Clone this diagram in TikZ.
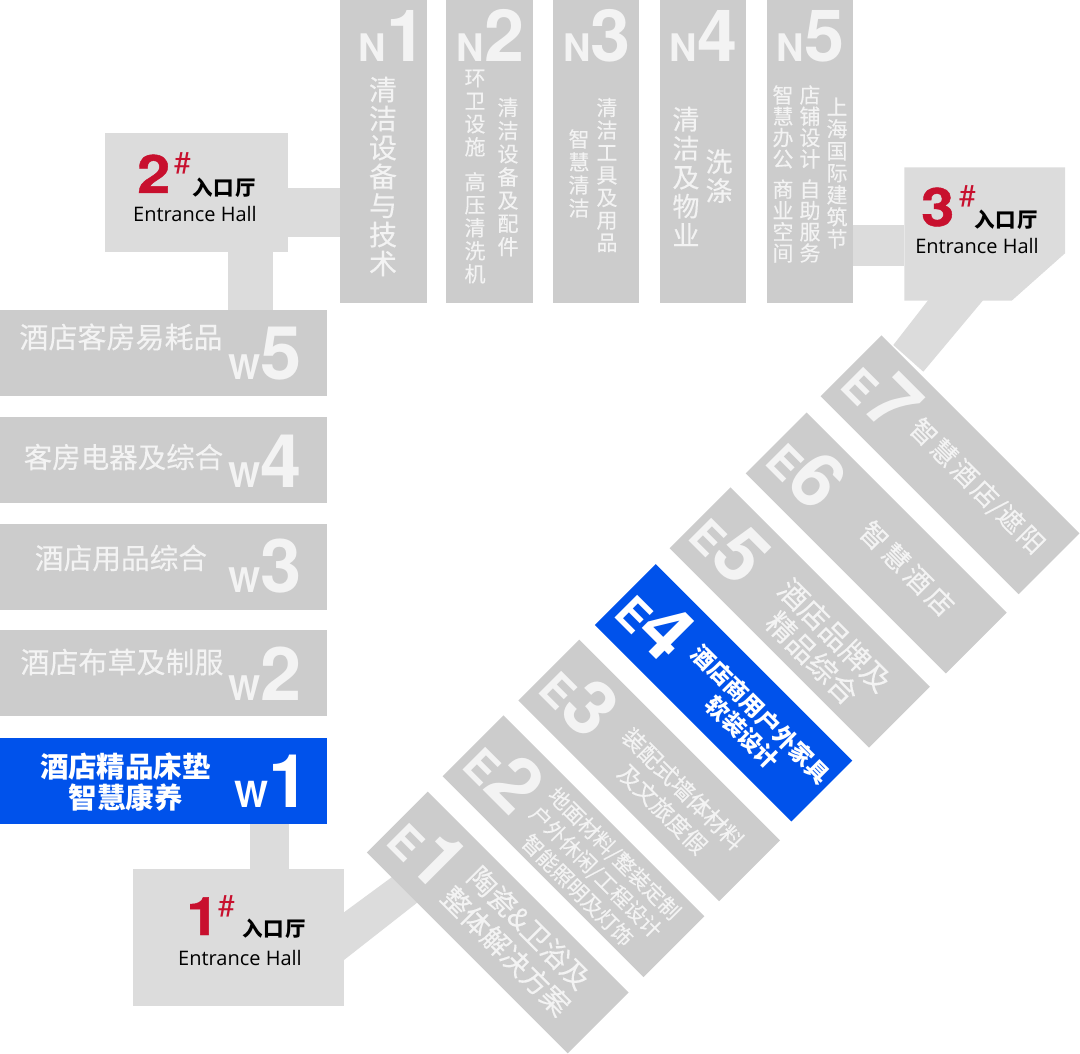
\documentclass[tikz,border=0pt]{standalone}
\usepackage{fontspec}
\newfontfamily\cjk{Noto Sans CJK SC}[FakeBold=0.25]
\newfontfamily\cjkb{Noto Sans CJK SC}
\newfontfamily\lab{TeX Gyre Heros}
\newfontfamily\labheavy{TeX Gyre Heros}[FakeBold=0.8,FakeStretch=1.12]
\newfontfamily\latin{Open Sans}
\XeTeXlinebreaklocale "zh"
\XeTeXlinebreakskip=0pt plus 0pt
\definecolor{hallgray}{RGB}{220,220,220}
\definecolor{zonegray}{RGB}{204,204,204}
\definecolor{zoneblue}{RGB}{0,82,235}
\definecolor{zonetext}{RGB}{243,243,243}
\definecolor{hallred}{RGB}{200,16,46}
\newcommand{\zonetag}[4]{{\lab\bfseries\fontsize{#3}{#3}\selectfont #1}{\lab\bfseries\fontsize{#4}{#4}\selectfont #2}}
\tikzset{
  zone/.style={fill=zonegray,inner sep=0pt,outer sep=0pt},
  ncol/.style={zone,minimum width=86.3,minimum height=303,anchor=north},
  wrow/.style={zone,minimum width=327,minimum height=86.3,anchor=west},
  erow/.style={zone,minimum width=#1,minimum height=86},
  hall/.style={fill=hallgray,inner sep=0pt,outer sep=0pt},
  tag/.style={text=zonetext,inner sep=0pt},
  hline/.style={text=zonetext,inner sep=0pt,font=\cjk\fontsize{#1}{#1}\selectfont},
  hblue/.style={text=white,inner sep=0pt,align=center,font=\cjkb\bfseries\fontsize{#1}{30.5}\selectfont},
  eline/.style n args={2}{text=zonetext,inner sep=0pt,align=center,font=\cjk\fontsize{#1}{#2}\selectfont},
  stack/.style n args={2}{text=zonetext,inner sep=0pt,align=center,text width={#1+1},font=\cjk\fontsize{#1}{#2}\selectfont},
  hallno/.style={text=hallred,inner sep=0pt,anchor=base west,font=\labheavy\bfseries\fontsize{53}{53}\selectfont},
  hallsharp/.style={text=hallred,inner sep=0pt,anchor=base west,font=\lab\fontsize{30}{30}\selectfont},
  hallcn/.style={inner sep=0pt,anchor=base east,font=\cjkb\bfseries\fontsize{20.5}{20.5}\selectfont},
  hallen/.style={inner sep=0pt,anchor=base east,font=\latin\fontsize{20}{20}\selectfont},
}

\begin{document}
\begin{tikzpicture}[x=1pt,y=-1pt]
  \useasboundingbox (0,0) rectangle (1080,1054);

  % halls
  \node[hall,minimum width=182.7,minimum height=119,anchor=north west] (hall2) at (105,133.3) {};
  \node[hall,minimum width=210.7,minimum height=137,anchor=north west] (hall1) at (133.3,869) {};
  \fill[hallgray] (904.3,167.3) coordinate (hall3) -- (1065,167.3) -- (1065,253.3) -- (1011.7,300.7) -- (904.3,300.7) -- cycle;

  % bands that run under the diagonal boxes
  \coordinate (b1a) at (344,912.3);
  \coordinate (b1b) at (392,877);
  \coordinate (b1c) at (418,902);
  \coordinate (b1d) at (344,960);
  \fill[hallgray] (b1a) -- (b1b) -- (b1c) -- (b1d) -- cycle;
  \coordinate (b3a) at (928.3,300);
  \coordinate (b3b) at (893.3,345);
  \coordinate (b3c) at (923.3,371.7);
  \coordinate (b3d) at (983.3,300);
  \fill[hallgray] (b3a) -- (b3b) -- (b3c) -- (b3d) -- cycle;

  % north columns
  \node[ncol] (n1) at (383.5,0) {};
  \node[ncol] (n2) at (489.5,0) {};
  \node[ncol] (n3) at (596.3,0) {};
  \node[ncol] (n4) at (703.3,0) {};
  \node[ncol] (n5) at (810.2,0) {};
  \node[tag,anchor=base west] at (358.5,62) {\zonetag{N}{1}{38}{72}};
  \node[tag,anchor=base west] at (456.5,62) {\zonetag{N}{2}{38}{72}};
  \node[tag,anchor=base west] at (563,62) {\zonetag{N}{3}{38}{72}};
  \node[tag,anchor=base west] at (669.5,62) {\zonetag{N}{4}{38}{72}};
  \node[tag,anchor=base west] at (776.5,62) {\zonetag{N}{5}{38}{72}};
  \node[stack={28}{29}] at (383,176.5) {清洁设备与技术};
  \node[stack={21}{23}] at (475,176.5) {环卫设施\\[12pt]高压清洗机};
  \node[stack={21}{23.2}] at (508,177) {清洁设备及配件};
  \node[stack={21}{22.5}] at (607,175) {清洁工具及用品};
  \node[stack={21}{23}] at (579,173.5) {智慧清洁};
  \node[stack={27}{29}] at (686,176.5) {清洁及物业};
  \node[stack={27}{29}] at (719,176) {洗涤};
  \node[stack={21}{22}] at (837,173) {上海国际建筑节};
  \node[stack={21}{21.3}] at (810,174) {店铺设计\\[9pt]自助服务};
  \node[stack={21}{21.3}] at (783,174) {智慧办公\\[9pt]商业空间};

  % west rows
  \node[wrow] (w5) at (0,353) {};
  \node[wrow] (w4) at (0,460) {};
  \node[wrow] (w3) at (0,567) {};
  \node[wrow] (w2) at (0,673) {};
  \node[wrow,fill=zoneblue] (w1) at (0,781) {};
  \node[tag,anchor=base east] at (302,379) {\zonetag{W}{5}{34}{74}};
  \node[tag,anchor=base east] at (302,487) {\zonetag{W}{4}{34}{74}};
  \node[tag,anchor=base east] at (302,592) {\zonetag{W}{3}{34}{74}};
  \node[tag,anchor=base east] at (302,700) {\zonetag{W}{2}{34}{74}};
  \node[tag,text=white,anchor=base east] at (310,807) {\zonetag{W}{1}{36}{74}};
  \node[hline=29] at (121,337) {酒店客房易耗品};
  \node[hline=28.5] at (123.5,457) {客房电器及综合};
  \node[hline=28.7] at (121,558) {酒店用品综合};
  \node[hline=29] at (122,662) {酒店布草及制服};
  \node[hblue=28.5] at (125.5,782) {酒店精品床垫\\智慧康养};

  % connectors between halls and boxes
  \coordinate (h2r) at (287,212.5);
  \coordinate (h2d) at (250.3,252);
  \coordinate (h1u) at (269.7,869);
  \coordinate (h3l) at (904.3,245.5);
  \draw[hallgray,line width=48.4] (h2r) -- (h2r -| n1.west);
  \draw[hallgray,line width=44.7] (h2d) -- (h2d |- w5.north);
  \draw[hallgray,line width=39.3] (h1u) -- (h1u |- w1.south);
  \draw[hallgray,line width=41] (h3l) -- (h3l -| n5.east);

  % east boxes
  \begin{scope}[shift={(497.8,922.5)},rotate=-45,transform shape]
    \node[erow=284] (e1) at (0,0) {};
    \node[tag,anchor=base west] at (-136,24) {\zonetag{E}{1}{44}{76}};
    \node[eline={28}{33}] at (26,-2) {陶瓷\&卫浴及\\整体解决方案};
  \end{scope}
  \begin{scope}[shift={(573.5,846.3)},rotate=-45,transform shape]
    \node[erow=284] (e2) at (0,0) {};
    \node[tag,anchor=base west] at (-136,24) {\zonetag{E}{2}{44}{76}};
    \node[eline={21}{26}] at (34,2) {地面材料/整装定制\\户外休闲/工程设计\\智能照明及灯饰};
  \end{scope}
  \begin{scope}[shift={(649.2,770.4)},rotate=-45,transform shape]
    \node[erow=284] (e3) at (0,0) {};
    \node[tag,anchor=base west] at (-136,24) {\zonetag{E}{3}{44}{76}};
    \node[eline={23}{29}] at (37,3.5) {装配式墙体材料\\及文旅度假};
  \end{scope}
  \begin{scope}[shift={(723.6,692.8)},rotate=-45,transform shape]
    \node[erow=278,fill=zoneblue] (e4) at (0,0) {};
    \node[tag,text=white,anchor=base west] at (-134,24) {\zonetag{E}{4}{44}{76}};
    \node[text=white,inner sep=0pt,align=center,font=\cjkb\bfseries\fontsize{23}{26}\selectfont] at (41.5,1.5) {酒店商用户外家具\\软装设计};
  \end{scope}
  \begin{scope}[shift={(799.7,617.5)},rotate=-45,transform shape]
    \node[erow=282] (e5) at (0,0) {};
    \node[tag,anchor=base west] at (-136,24) {\zonetag{E}{5}{44}{76}};
    \node[eline={29}{32}] at (37.5,3.5) {酒店品牌及\\精品综合};
  \end{scope}
  \begin{scope}[shift={(876.2,543)},rotate=-45,transform shape]
    \node[erow=283] (e6) at (0,0) {};
    \node[tag,anchor=base west] at (-136,24) {\zonetag{E}{6}{44}{76}};
    \node[eline={27}{27}] at (40,-4) {智\hspace{4pt}慧\hspace{4pt}酒\hspace{4pt}店};
  \end{scope}
  \begin{scope}[shift={(950,464.8)},rotate=-45,transform shape]
    \node[erow=280] (e7) at (0,0) {};
    \node[tag,anchor=base west] at (-134,24) {\zonetag{E}{7}{44}{76}};
    \node[eline={26}{26}] at (34.5,-3.5) {智\hspace{3pt}慧\hspace{3pt}酒\hspace{3pt}店/遮\hspace{3pt}阳};
  \end{scope}

  % hall labels
  \node[hallno] (no2) at (137,193) {2};
  \node[hallsharp] (sh2) at (174,174) {\#};
  \node[hallcn] (cn2) at (256,196) {入\hspace{1pt}口\hspace{1pt}厅};
  \node[hallen] (en2) at (257,222) {Entrance Hall};
  \node[hallno] (no3) at (921,226) {3};
  \node[hallsharp] (sh3) at (959,207) {\#};
  \node[hallcn] (cn3) at (1038,228) {入\hspace{1pt}口\hspace{1pt}厅};
  \node[hallen] (en3) at (1039,254) {Entrance Hall};
  \node[hallno] (no1) at (186,935) {1};
  \node[hallsharp] (sh1) at (218,916) {\#};
  \node[hallcn] (cn1) at (306,936) {入\hspace{1pt}口\hspace{1pt}厅};
  \node[hallen] (en1) at (302,965) {Entrance Hall};
\end{tikzpicture}
\end{document}
